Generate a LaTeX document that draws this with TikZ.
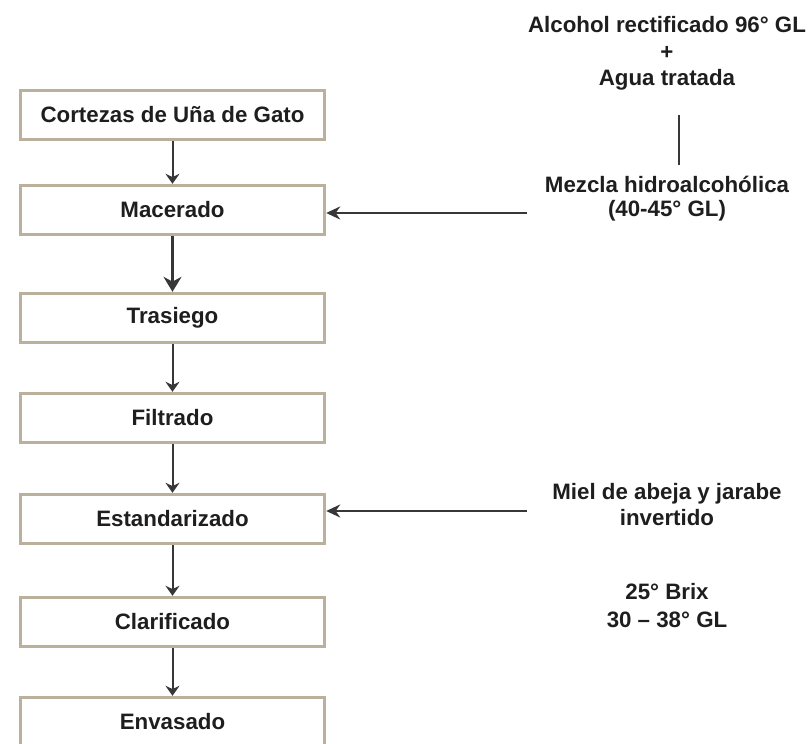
\documentclass[tikz,border=0pt]{standalone}
\usepackage{fontspec}
\setmainfont{Liberation Sans}
\usetikzlibrary{arrows.meta}
\definecolor{boxline}{RGB}{186,176,156}
\definecolor{arrowc}{RGB}{55,55,55}
\definecolor{txt}{RGB}{30,30,30}
\begin{document}
\begin{tikzpicture}[x=1pt,y=-1pt,
  stepbox/.style={draw=boxline, line width=3.4pt, fill=white, minimum width=304pt, minimum height=49pt, inner sep=0pt, text=txt, font=\fontsize{22.3}{24}\selectfont\bfseries},
  lbl/.style={text=txt, align=center, inner sep=0pt, font=\fontsize{22.3}{24}\selectfont\bfseries},
  flow/.style={draw=arrowc, line width=2pt, -{Stealth[length=10pt,width=14pt]}},
  bigflow/.style={draw=arrowc, line width=2.4pt, -{Stealth[length=15pt,width=18pt]}},
  sideflow/.style={draw=arrowc, line width=2.4pt, -{Stealth[length=14pt,width=13pt]}},
  plain/.style={draw=arrowc, line width=2pt}]
\useasboundingbox (0,0) rectangle (811,744);
\node[stepbox] (b1) at (172.5,115) {Cortezas de Uña de Gato};
\node[stepbox] (b2) at (172.5,210) {Macerado};
\node[stepbox] (b3) at (172.5,318) {Trasiego};
\node[stepbox] (b4) at (172.5,418) {Filtrado};
\node[stepbox] (b5) at (172.5,519) {Estandarizado};
\node[stepbox] (b6) at (172.5,622) {Clarificado};
\node[stepbox] (b7) at (172.5,722) {Envasado};
\draw[flow] (b1) -- (b2);
\draw[bigflow] (b2) -- (b3);
\draw[flow] (b3) -- (b4);
\draw[flow] (b4) -- (b5);
\draw[flow] (b5) -- (b6);
\draw[flow] (b6) -- (b7);
\node[lbl, font=\fontsize{22.3}{26.5}\selectfont\bfseries] (alc) at (667,53.5) {Alcohol rectificado 96° GL\\+\\Agua tratada};
\node[lbl] (mez) at (667,199) {Mezcla hidroalcohólica\\(40-45° GL)};
\node[lbl, font=\fontsize{22.3}{26}\selectfont\bfseries] (miel) at (667,505) {Miel de abeja y jarabe\\invertido};
\node[lbl, font=\fontsize{22.3}{28}\selectfont\bfseries] (brix) at (667,606) {25° Brix\\30 – 38° GL};
\coordinate (v1) at (679,115);
\coordinate (v2) at (679,165);
\draw[plain] (v1) -- (v2);
\coordinate (m1) at (527,213);
\coordinate (m2) at (527,511);
\draw[sideflow] (m1) -- (m1 -| b2.east);
\draw[sideflow] (m2) -- (m2 -| b5.east);
\end{tikzpicture}
\end{document}
